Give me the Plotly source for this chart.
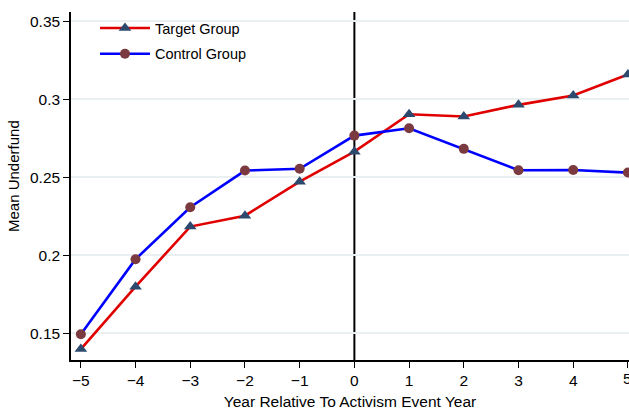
import plotly.graph_objects as go

years = [-5, -4, -3, -2, -1, 0, 1, 2, 3, 4, 5]
target_group = [0.140, 0.180, 0.2185, 0.2255, 0.2473, 0.2665, 0.2905, 0.2890, 0.2965, 0.3025, 0.3160]
control_group = [0.1495, 0.1976, 0.2309, 0.2544, 0.2555, 0.2768, 0.2815, 0.2683, 0.2546, 0.2548, 0.2531]
y_ticks = [0.15, 0.2, 0.25, 0.3, 0.35]
y_tick_labels = ["0.15", "0.2", "0.25", "0.3", "0.35"]
x_tick_labels = [("\u2212" + str(-v)) if v < 0 else str(v) for v in years]

FONT = "Liberation Sans, Arial, Helvetica, sans-serif"

fig = go.Figure()
fig.add_trace(go.Scatter(
    x=years, y=target_group, name="Target Group", mode="lines+markers",
    legendgroup="t",
    line=dict(color="#e00000", width=2.6),
    marker=dict(symbol="triangle-up", size=11, color="#2d4a6e"),
    cliponaxis=False,
))
fig.add_trace(go.Scatter(
    x=years, y=control_group, name="Control Group", mode="lines+markers",
    legendgroup="c",
    line=dict(color="#0000ff", width=2.6),
    marker=dict(symbol="circle", size=10, color="#7a3a3f"),
    cliponaxis=False,
))

fig.add_shape(type="line", x0=0, x1=0, xref="x", y0=0, y1=1, yref="paper",
              line=dict(color="black", width=2), layer="between")

fig.add_annotation(text="Mean Underfund", xref="paper", yref="paper",
                   x=-58 / 558, y=(360 - 176) / 348, textangle=-90,
                   showarrow=False, xanchor="center", yanchor="middle",
                   font=dict(size=15, family=FONT, color="black"))

# last x tick label sits on the page edge (partly cut, as in the reference)
fig.add_annotation(text=x_tick_labels[-1], xref="x", yref="paper",
                   x=years[-1], y=0, yshift=-8, showarrow=False,
                   xanchor="center", yanchor="top",
                   font=dict(size=15.5, family=FONT, color="black"))

fig.update_layout(
    width=629, height=414,
    margin=dict(l=71, r=0, t=12, b=54, autoexpand=False),
    paper_bgcolor="white", plot_bgcolor="white",
    font=dict(family=FONT, size=15, color="black"),
    showlegend=True,
    legend=dict(x=0.043, y=1.0, xanchor="left", yanchor="top",
                bgcolor="rgba(0,0,0,0)", font=dict(size=14.5, family=FONT),
                itemwidth=50, tracegroupgap=4),
    xaxis=dict(
        range=[-5.18, 5.02], tickmode="array", tickvals=years,
        ticktext=x_tick_labels,
        ticks="outside", ticklen=6, tickcolor="black", tickwidth=1,
        showline=True, linecolor="black", linewidth=1.5,
        showgrid=False, zeroline=False, automargin=False,
        title=dict(text="Year Relative To Activism Event Year", font=dict(size=15.5), standoff=8),
        tickfont=dict(size=15.5),
    ),
    yaxis=dict(
        range=[0.133, 0.356], tickmode="array", tickvals=y_ticks, ticktext=y_tick_labels,
        ticks="outside", ticklen=6, tickcolor="black", tickwidth=1,
        showline=True, linecolor="black", linewidth=1.5,
        showgrid=True, gridcolor="#eaeff2", gridwidth=1.5, zeroline=False, automargin=False,
        tickfont=dict(size=15.5),
    ),
)

fig.write_html("out.html", config={"displayModeBar": False},
               post_script="document.body.style.margin='0';document.body.style.overflow='hidden';")
